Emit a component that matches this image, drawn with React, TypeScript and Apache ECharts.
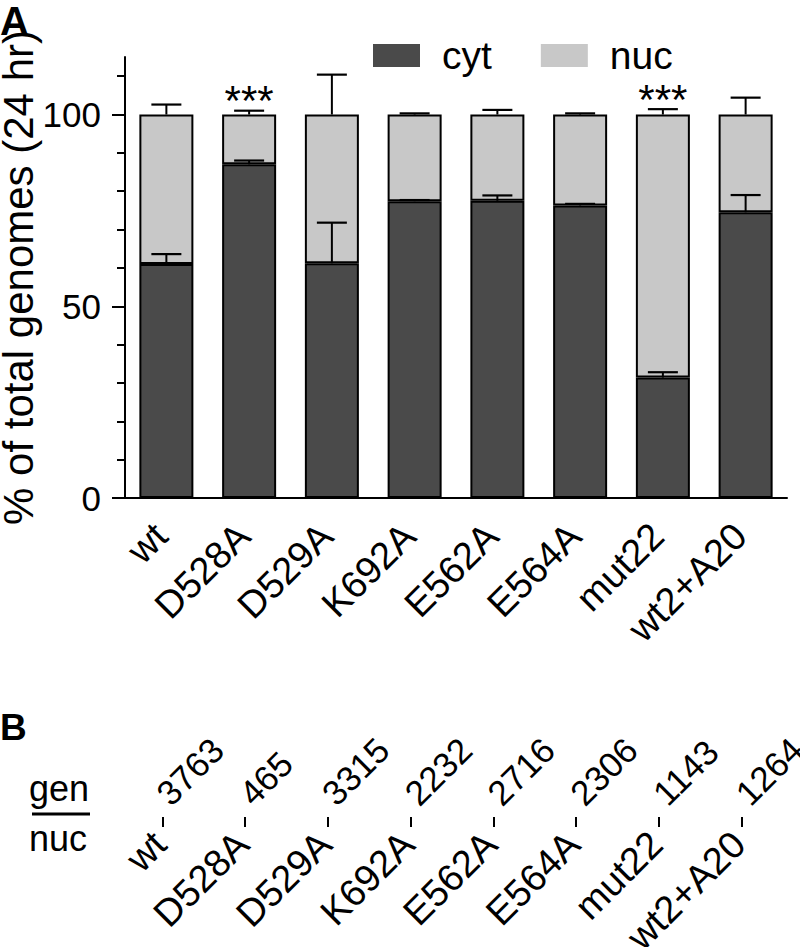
import React, { useEffect, useRef } from "react";
import * as echarts from "echarts";

const categories = ["wt", "D528A", "D529A", "K692A", "E562A", "E564A", "mut22", "wt2+A20"];
const cytValues = [61.0, 87.0, 61.2, 77.4, 77.5, 76.3, 31.4, 74.5];
const nucValues = cytValues.map((v) => +(100 - v).toFixed(1));
const cytErrors = [2.6, 1.0, 10.6, 0.3, 1.4, 0.4, 1.4, 4.5];
const nucErrors = [2.6, 1.0, 10.4, 0.3, 1.2, 0.3, 1.4, 4.4];
const significance = ["", "***", "", "", "", "", "***", ""];
const genPerNuc = ["3763", "465", "3315", "2232", "2716", "2306", "1143", "1264"];
const yTickValues = [0, 10, 20, 30, 40, 50, 60, 70, 80, 90, 100, 110];
const yLabelValues = [0, 50, 100];

const FONT = "'Liberation Sans', Arial, Helvetica, sans-serif";
const DARK = "#4a4a4a";
const LIGHT = "#c8c8c8";

export default function App() {
  const ref = useRef<HTMLDivElement>(null);
  useEffect(() => {
    if (!ref.current) return;
    const chart = echarts.init(ref.current, null, { renderer: "svg" });
    const errRender = (params: any, api: any) => {
      const i = api.value(0);
      const base = api.value(1);
      const err = api.value(2);
      const p0 = api.coord([i, base]);
      const p1 = api.coord([i, base + err]);
      return {
        type: "group",
        children: [
          { type: "line", shape: { x1: p0[0], y1: p0[1], x2: p1[0], y2: p1[1] }, style: { stroke: "#000", lineWidth: 2 } },
          { type: "line", shape: { x1: p1[0] - 15, y1: p1[1], x2: p1[0] + 15, y2: p1[1] }, style: { stroke: "#000", lineWidth: 2.2 } },
        ],
      };
    };
    const option: any = {
      animation: false,
      textStyle: { fontFamily: FONT },
      grid: [
        { left: 125, right: 13, top: 57, height: 441, containLabel: false, outerBoundsMode: "none" },
        { left: 121, right: 17, top: 817, height: 10, containLabel: false, outerBoundsMode: "none" },
      ],
      legend: {
        left: 373,
        top: 36,
        padding: 0,
        itemWidth: 47,
        itemHeight: 23,
        itemGap: 49,
        icon: "rect",
        itemStyle: { borderWidth: 0 },
        textStyle: { fontSize: 39, color: "#000", fontFamily: FONT, padding: [0, 0, 0, 17] },
        data: ["cyt", "nuc"],
      },
      xAxis: [
        {
          type: "category",
          gridIndex: 0,
          data: categories,
          axisLine: { lineStyle: { color: "#000", width: 2 } },
          axisTick: { alignWithLabel: true, length: 13, lineStyle: { color: "#000", width: 2 } },
          axisLabel: { rotate: 45, fontSize: 38, color: "#000", margin: 26, padding: [0, 8, 0, 0], fontFamily: FONT },
        },
        {
          type: "category",
          gridIndex: 1,
          data: categories,
          position: "bottom",
          axisLine: { show: false },
          axisTick: { show: true, inside: true, alignWithLabel: true, length: 10, lineStyle: { color: "#000", width: 2 } },
          axisLabel: { rotate: 45, fontSize: 38, color: "#000", margin: 8, padding: [0, 4, 0, 0], fontFamily: FONT },
        },
        {
          type: "category",
          gridIndex: 1,
          data: genPerNuc,
          position: "top",
          axisLine: { show: false },
          axisTick: { show: false },
          axisLabel: { rotate: -45, fontSize: 35, color: "#000", margin: 18, fontFamily: FONT },
        },
      ],
      yAxis: [
        {
          type: "value",
          gridIndex: 0,
          min: 0,
          max: 115,
          position: "left",
          name: "% of total genomes (24 hr)",
          nameLocation: "middle",
          nameRotate: 90,
          nameGap: 86,
          nameMoveOverlap: false,
          nameTextStyle: { fontSize: 42, color: "#000", fontFamily: FONT },
          splitLine: { show: false },
          axisLine: { show: true, lineStyle: { color: "#000", width: 2 } },
          axisTick: { show: true, length: 8, customValues: yTickValues, lineStyle: { color: "#000", width: 2 } },
          axisLabel: { customValues: yLabelValues, fontSize: 35, color: "#000", margin: 24, fontFamily: FONT },
        },
        {
          type: "value",
          gridIndex: 0,
          min: 0,
          max: 115,
          position: "left",
          splitLine: { show: false },
          axisLine: { show: false },
          axisTick: { show: true, length: 13, customValues: yLabelValues, lineStyle: { color: "#000", width: 2 } },
          axisLabel: { show: false },
        },
        { type: "value", gridIndex: 1, show: false, min: 0, max: 1 },
      ],
      series: [
        {
          name: "cyt",
          type: "bar",
          stack: "total",
          xAxisIndex: 0,
          yAxisIndex: 0,
          barWidth: 54,
          data: cytValues,
          itemStyle: { color: DARK, borderColor: "#000", borderWidth: 2 },
        },
        {
          name: "nuc",
          type: "bar",
          stack: "total",
          xAxisIndex: 0,
          yAxisIndex: 0,
          barWidth: 54,
          data: nucValues,
          itemStyle: { color: LIGHT, borderColor: "#000", borderWidth: 2 },
        },
        {
          type: "custom",
          xAxisIndex: 0,
          yAxisIndex: 0,
          z: 5,
          renderItem: errRender,
          data: cytValues.map((v, i) => [i, v, cytErrors[i]]),
        },
        {
          type: "custom",
          xAxisIndex: 0,
          yAxisIndex: 0,
          z: 5,
          renderItem: errRender,
          data: nucValues.map((v, i) => [i, cytValues[i] + v, nucErrors[i]]),
        },
        {
          type: "custom",
          xAxisIndex: 0,
          yAxisIndex: 0,
          z: 6,
          renderItem: (params: any, api: any) => {
            const i = params.dataIndex;
            const s = significance[i];
            if (!s) return null;
            const p = api.coord([i, 100 + nucErrors[i]]);
            return {
              type: "text",
              style: { text: s, x: p[0], y: p[1] + 11, align: "center", verticalAlign: "bottom", fontSize: 42, fill: "#000", fontFamily: FONT },
            };
          },
          data: categories.map((c, i) => [i, 100]),
        },
      ],
      graphic: [
        { type: "text", left: 0, top: 1, style: { text: "A", fontSize: 40, fontWeight: "bold", fill: "#000", fontFamily: FONT } },
        { type: "text", left: 0, top: 709, style: { text: "B", fontSize: 37, fontWeight: "bold", fill: "#000", fontFamily: FONT } },
        { type: "text", left: 29, top: 770, style: { text: "gen", fontSize: 36, fill: "#000", fontFamily: FONT } },
        { type: "line", shape: { x1: 32, y1: 814, x2: 90, y2: 814 }, style: { stroke: "#000", lineWidth: 3 } },
        { type: "text", left: 29, top: 820, style: { text: "nuc", fontSize: 36, fill: "#000", fontFamily: FONT } },
      ],
    };
    chart.setOption(option);
    return () => chart.dispose();
  }, []);
  return <div ref={ref} style={{ position: "fixed", left: 0, top: 0, width: 800, height: 947, background: "#fff" }} />;
}
